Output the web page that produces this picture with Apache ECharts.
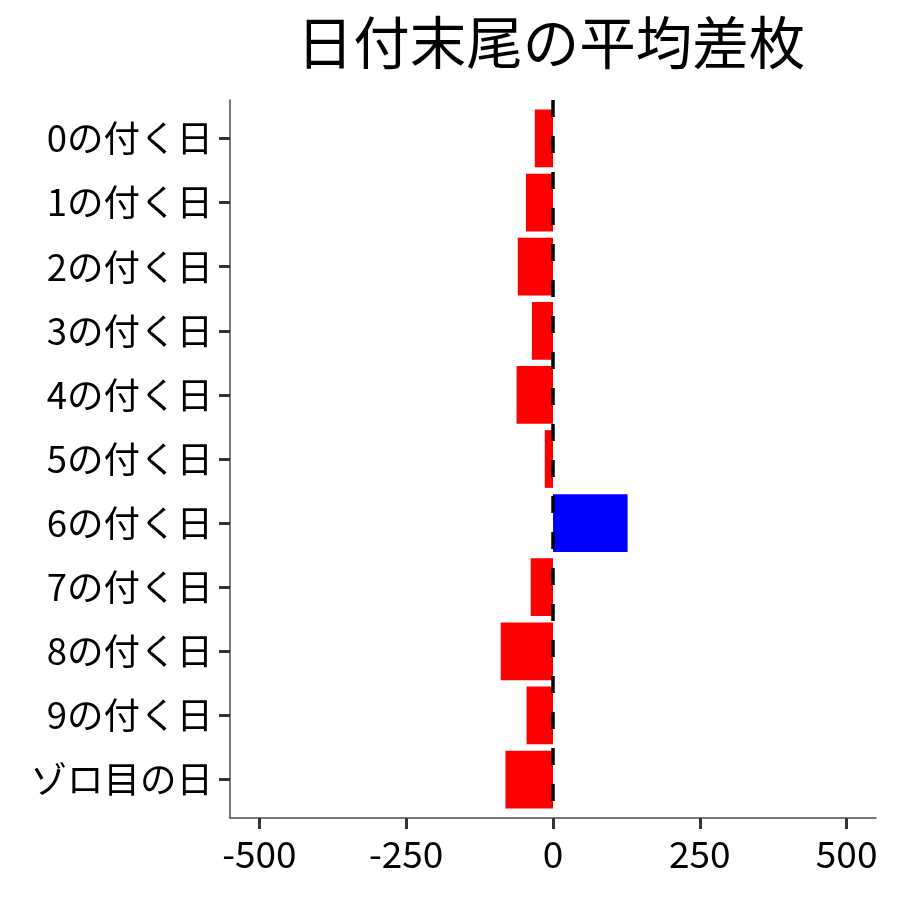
<!DOCTYPE html>
<html><head><meta charset="utf-8">
<script src="https://cdn.jsdelivr.net/npm/echarts@6/dist/echarts.min.js"></script>
<style>html,body{margin:0;padding:0;background:#fff}#c{width:900px;height:900px}</style>
</head><body><div id="c"></div>
<script>
const categories = ["0の付く日","1の付く日","2の付く日","3の付く日","4の付く日","5の付く日","6の付く日","7の付く日","8の付く日","9の付く日","ゾロ目の日"];
const values = [-31,-46,-60,-36,-62,-14,127,-38,-89,-45,-81];
const xTicks = [-500,-250,0,250,500];
const titleText = "日付末尾の平均差枚";
const FONT = '"Noto Sans CJK JP","Noto Sans",sans-serif';

const catIdx = categories.map((c, i) => i);
const chart = echarts.init(document.getElementById('c'));
chart.setOption({
  animation: false,
  backgroundColor: '#fff',
  title: {text: titleText, left: 546, top: 9, textAlign: 'center',
    textStyle: {fontFamily: FONT, fontSize: 56.5, fontWeight: 'normal', color: '#000'}},
  grid: {left: 230, right: 24, top: 100, bottom: 82, containLabel: false},
  xAxis: {type: 'value', min: -550, max: 550,
    axisLine: {show: true, onZero: false, lineStyle: {color: '#4d4d4d', width: 1.5}},
    axisTick: {show: true, length: 11, customValues: xTicks, lineStyle: {color: '#333', width: 3}},
    axisLabel: {customValues: xTicks, fontFamily: FONT, fontSize: 37, color: '#000', margin: 17},
    splitLine: {show: false}},
  yAxis: {type: 'value', min: -0.6, max: categories.length - 0.4, inverse: true,
    axisLine: {show: true, onZero: false, lineStyle: {color: '#4d4d4d', width: 1.5}},
    axisTick: {show: true, length: 11, customValues: catIdx, lineStyle: {color: '#333', width: 3}},
    axisLabel: {customValues: catIdx, formatter: v => categories[Math.round(v)] || '',
      fontFamily: FONT, fontSize: 36.5, color: '#000', margin: 17},
    splitLine: {show: false}},
  series: [
    {type: 'custom', encode: {x: 1, y: 0},
      data: values.map((v, i) => [i, v]),
      renderItem: function (params, api) {
        const i = api.value(0), v = api.value(1);
        const p0 = api.coord([0, i - 0.45]);
        const p1 = api.coord([v, i + 0.45]);
        const x = Math.min(p0[0], p1[0]), y = Math.min(p0[1], p1[1]);
        return {type: 'rect', shape: {x: x, y: y, width: Math.abs(p1[0] - p0[0]), height: Math.abs(p1[1] - p0[1])},
          style: {fill: v >= 0 ? '#0000FF' : '#FF0000'}};
      }},
    {type: 'line', data: [[0, -0.6], [0, categories.length - 0.4]], symbol: 'none', z: 5,
      lineStyle: {color: '#000', width: 3.5, type: [17, 19]}}
  ]
});
</script></body></html>
